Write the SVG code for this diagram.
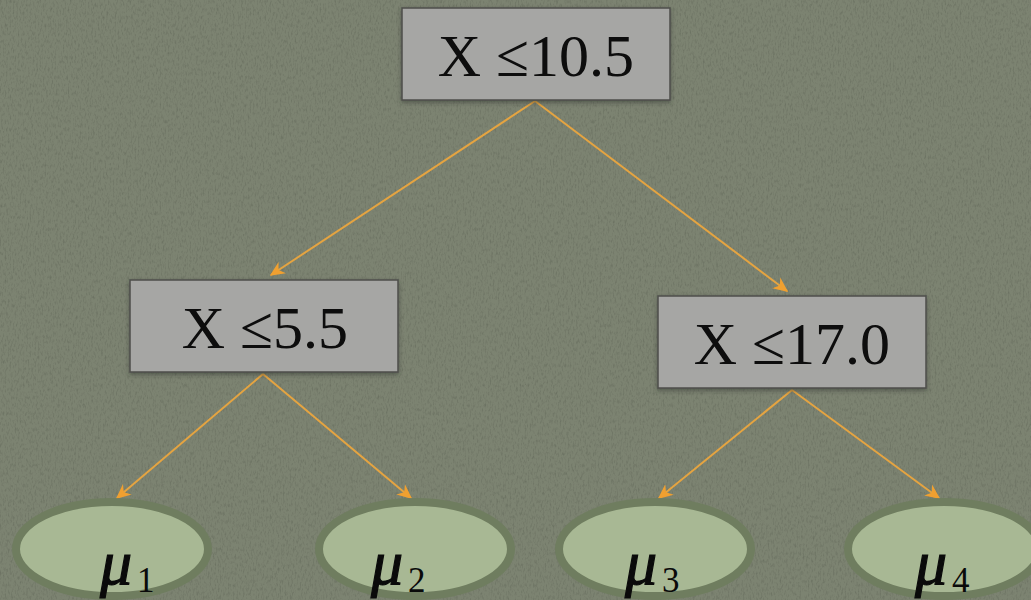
<svg xmlns="http://www.w3.org/2000/svg" width="1031" height="600" viewBox="0 0 1031 600">
  <style>
    .box { fill: #a6a6a4; stroke: #4d4d4b; stroke-width: 1.5; }
    .lbl { font-family: "Liberation Serif", "DejaVu Serif", serif; font-size: 60px; fill: #0a0a0a; text-anchor: middle; }
    .leaf { fill: #a8b894; stroke: #6f7d5f; stroke-width: 8; }
    .mu { font-family: "Liberation Serif", "DejaVu Serif", serif; font-size: 64px; font-style: italic; fill: #0a0a0a; stroke: #0a0a0a; stroke-width: 1.2; }
    .sub { font-family: "Liberation Serif", "DejaVu Serif", serif; font-size: 35px; fill: #0a0a0a; }
    .edge { stroke: #e5a441; stroke-width: 2; fill: none; marker-end: url(#arrow); }
  </style>
  <defs>
    <marker id="arrow" viewBox="0 0 20 20" refX="18" refY="10" markerWidth="15" markerHeight="15" markerUnits="userSpaceOnUse" orient="auto">
      <path d="M0,1 L20,10 L0,19 L6,10 Z" fill="#f0a030"/>
    </marker>
    <filter id="grain" x="0" y="0" width="100%" height="100%">
      <feTurbulence type="fractalNoise" baseFrequency="0.6 0.25" numOctaves="3" seed="4" result="n"/>
      <feColorMatrix in="n" type="matrix" values="0 0 0 0 0  0 0 0 0 0  0 0 0 0 0  0 0 0 -1.4 0.75" result="dark"/>
      <feComposite in="dark" in2="SourceGraphic" operator="in"/>
    </filter>
    <filter id="shadow" x="-10%" y="-10%" width="120%" height="130%">
      <feDropShadow dx="0" dy="2" stdDeviation="2" flood-color="#2a2e25" flood-opacity="0.5"/>
    </filter>
  </defs>

  <!-- background -->
  <rect width="1031" height="600" fill="#7c8371"/>
  <rect width="1031" height="600" fill="#7c8371" filter="url(#grain)" opacity="0.2"/>

  <!-- connectors -->
  <g id="connectors">
    <line class="edge" x1="535" y1="101" x2="271" y2="275"/>
    <line class="edge" x1="535" y1="101" x2="787" y2="291"/>
    <line class="edge" x1="263" y1="374" x2="117" y2="498"/>
    <line class="edge" x1="263" y1="374" x2="411" y2="498"/>
    <line class="edge" x1="792" y1="390" x2="659" y2="498"/>
    <line class="edge" x1="792" y1="390" x2="939" y2="498"/>
  </g>

  <!-- split nodes -->
  <g id="node-root" filter="url(#shadow)">
    <rect class="box" x="402" y="8" width="268" height="92"/>
    <text class="lbl" x="536" y="76">X ≤10.5</text>
  </g>
  <g id="node-left" filter="url(#shadow)">
    <rect class="box" x="130" y="280" width="268" height="92"/>
    <text class="lbl" x="265" y="348">X ≤5.5</text>
  </g>
  <g id="node-right" filter="url(#shadow)">
    <rect class="box" x="658" y="296" width="268" height="92"/>
    <text class="lbl" x="792" y="364">X ≤17.0</text>
  </g>

  <!-- leaf nodes -->
  <g id="leaf-1">
    <ellipse class="leaf" cx="112" cy="549" rx="96" ry="47"/>
    <text class="mu" x="100" y="584">μ</text><text class="sub" x="137" y="592">1</text>
  </g>
  <g id="leaf-2">
    <ellipse class="leaf" cx="415" cy="549" rx="96" ry="47"/>
    <text class="mu" x="371" y="584">μ</text><text class="sub" x="408" y="592">2</text>
  </g>
  <g id="leaf-3">
    <ellipse class="leaf" cx="655" cy="549" rx="96" ry="47"/>
    <text class="mu" x="625" y="584">μ</text><text class="sub" x="662" y="592">3</text>
  </g>
  <g id="leaf-4">
    <ellipse class="leaf" cx="944" cy="549" rx="96" ry="47"/>
    <text class="mu" x="915" y="584">μ</text><text class="sub" x="952" y="592">4</text>
  </g>
</svg>
